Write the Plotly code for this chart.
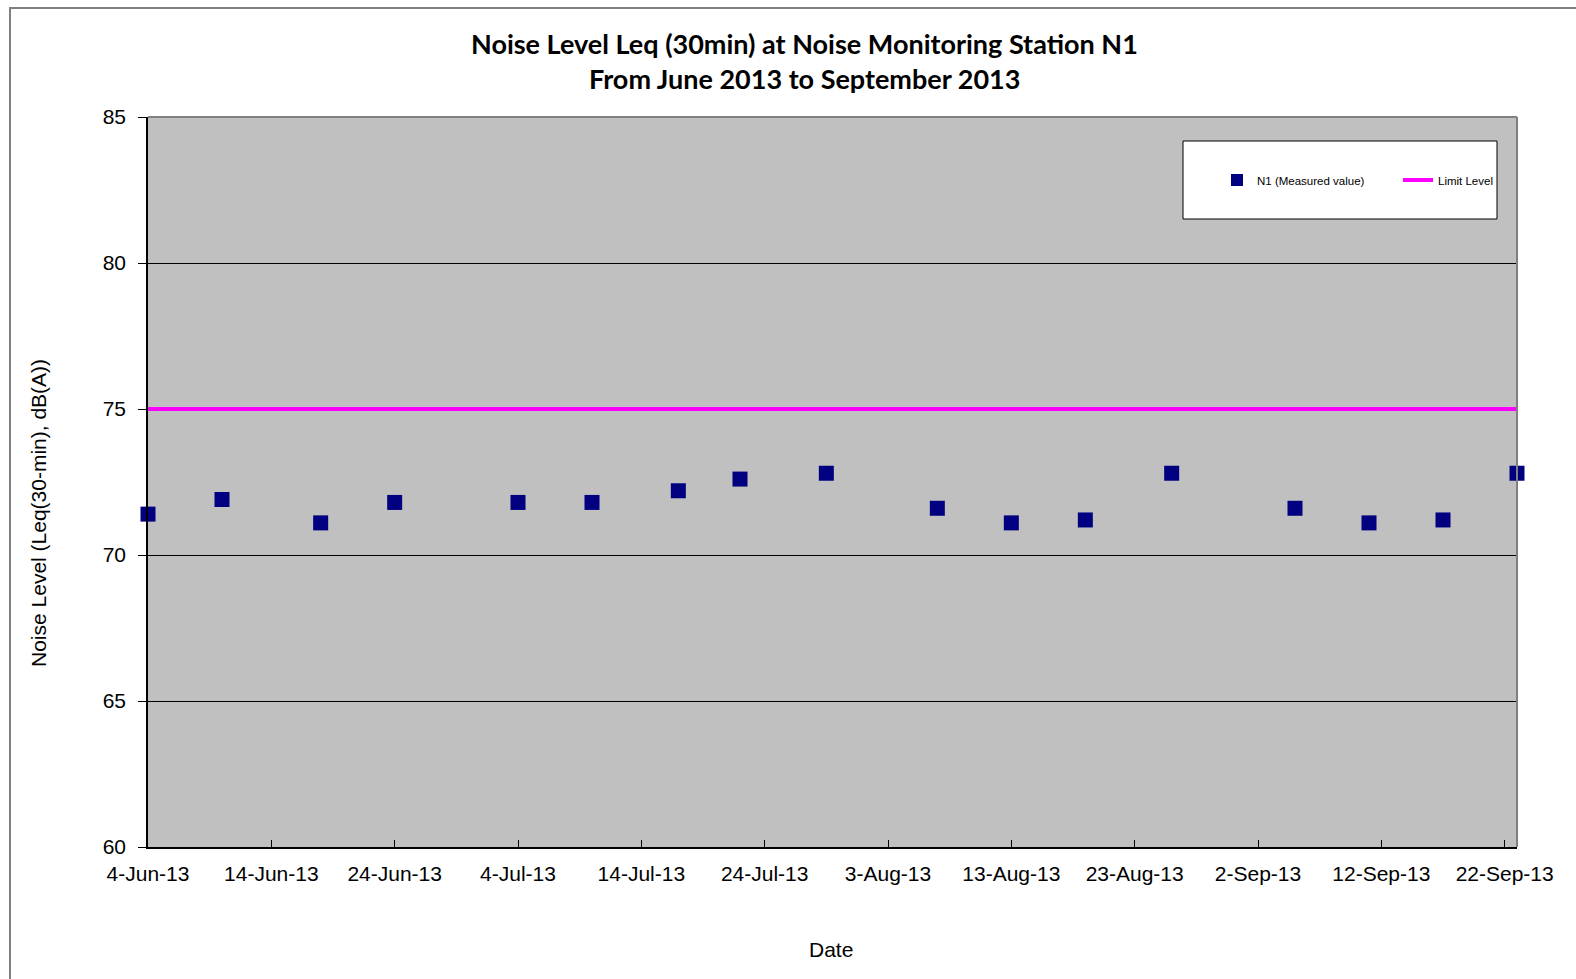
import plotly.graph_objects as go

# Measurement dates and Leq(30min) readings at station N1
dates = [
    "2013-06-04", "2013-06-10", "2013-06-18", "2013-06-24", "2013-07-04",
    "2013-07-10", "2013-07-17", "2013-07-22", "2013-07-29", "2013-08-07",
    "2013-08-13", "2013-08-19", "2013-08-26", "2013-09-05", "2013-09-11",
    "2013-09-17", "2013-09-23",
]
leq_values = [
    71.4, 71.9, 71.1, 71.8, 71.8,
    71.8, 72.2, 72.6, 72.8, 71.6,
    71.1, 71.2, 72.8, 71.6, 71.1,
    71.2, 72.8,
]

# Limit level line spans the whole period
limit_dates = ["2013-06-04", "2013-09-23"]
limit_values = [75, 75]

tick_dates = [
    "2013-06-04", "2013-06-14", "2013-06-24", "2013-07-04", "2013-07-14",
    "2013-07-24", "2013-08-03", "2013-08-13", "2013-08-23", "2013-09-02",
    "2013-09-12", "2013-09-22",
]
tick_labels = [
    "4-Jun-13", "14-Jun-13", "24-Jun-13", "4-Jul-13", "14-Jul-13",
    "24-Jul-13", "3-Aug-13", "13-Aug-13", "23-Aug-13", "2-Sep-13",
    "12-Sep-13", "22-Sep-13",
]

W, H = 1576, 979
L, R, T, B = 148, 59, 117, 132
pw, ph = W - L - R, H - T - B


def px_x(x):
    return (x - L) / pw


def px_y(y):
    return (H - B - y) / ph


fig = go.Figure()
fig.add_trace(go.Scatter(
    x=dates, y=leq_values, mode="markers", name="N1 (Measured value)",
    marker=dict(symbol="square", size=15, color="#000080",
                line=dict(width=0)),
    cliponaxis=False, legend="legend",
))
fig.add_trace(go.Scatter(
    x=limit_dates, y=limit_values, mode="lines", name="Limit Level",
    line=dict(color="#FF00FF", width=4),
    cliponaxis=False, legend="legend2",
))

axis_font = dict(family="Liberation Sans, Arial, sans-serif", size=21,
                 color="black")
legend_font = dict(family="Liberation Sans, Arial, sans-serif", size=11.5,
                   color="black")

fig.update_layout(
    width=W, height=H,
    margin=dict(l=L, r=R, t=T, b=B),
    paper_bgcolor="white",
    plot_bgcolor="#C0C0C0",
    showlegend=True,
    legend=dict(
        orientation="h", x=px_x(1217), y=px_y(180),
        xanchor="left", yanchor="middle",
        bgcolor="rgba(0,0,0,0)", borderwidth=0,
        font=legend_font, itemsizing="constant",
    ),
    legend2=dict(
        orientation="h", x=px_x(1398), y=px_y(180),
        xanchor="left", yanchor="middle",
        bgcolor="rgba(0,0,0,0)", borderwidth=0,
        font=legend_font,
    ),
    xaxis=dict(
        type="date", range=["2013-06-04", "2013-09-23"],
        tickvals=tick_dates, ticktext=tick_labels,
        ticks="inside", ticklen=7, tickcolor="black", tickwidth=1,
        showline=True, linecolor="black", linewidth=1.5,
        showgrid=False, zeroline=False,
        tickfont=axis_font, ticklabelstandoff=7,
    ),
    yaxis=dict(
        range=[60, 85], dtick=5, tick0=60,
        ticks="outside", ticklen=8, tickcolor="black", tickwidth=1,
        showline=True, linecolor="black", linewidth=1.5,
        showgrid=True, gridcolor="black", gridwidth=1,
        zeroline=False,
        tickfont=axis_font, ticklabelstandoff=8,
    ),
    shapes=[
        # outer chart frame
        dict(type="rect", xref="paper", yref="paper",
             x0=px_x(10), x1=px_x(1600), y0=px_y(1000), y1=px_y(8),
             line=dict(color="#808080", width=2), fillcolor="rgba(0,0,0,0)"),
        # top and right border of the plot area
        dict(type="line", xref="paper", yref="paper", x0=0, x1=1, y0=1, y1=1,
             line=dict(color="#808080", width=2)),
        dict(type="line", xref="paper", yref="paper", x0=1, x1=1, y0=0, y1=1,
             line=dict(color="#808080", width=2)),
        # legend box
        dict(type="rect", xref="paper", yref="paper",
             x0=px_x(1183), x1=px_x(1497), y0=px_y(219), y1=px_y(141),
             line=dict(color="black", width=1), fillcolor="white",
             layer="above"),
    ],
    annotations=[
        dict(text="<b>Noise Level Leq (30min) at Noise Monitoring Station N1</b>",
             xref="paper", yref="paper", x=px_x(804), y=px_y(43),
             xanchor="center", yanchor="middle", showarrow=False,
             font=dict(family="Lato, Open Sans, sans-serif", size=27,
                       color="black")),
        dict(text="<b>From June 2013 to September 2013</b>",
             xref="paper", yref="paper", x=px_x(804), y=px_y(78),
             xanchor="center", yanchor="middle", showarrow=False,
             font=dict(family="Lato, Open Sans, sans-serif", size=27,
                       color="black")),
        dict(text="Date", xref="paper", yref="paper",
             x=px_x(831), y=px_y(949), xanchor="center", yanchor="middle",
             showarrow=False, font=axis_font),
        dict(text="Noise Level (Leq(30-min), dB(A))", xref="paper",
             yref="paper", x=px_x(38), y=px_y(513), xanchor="center",
             yanchor="middle", textangle=-90, showarrow=False,
             font=axis_font),
    ],
)

fig.write_html("out.html")
